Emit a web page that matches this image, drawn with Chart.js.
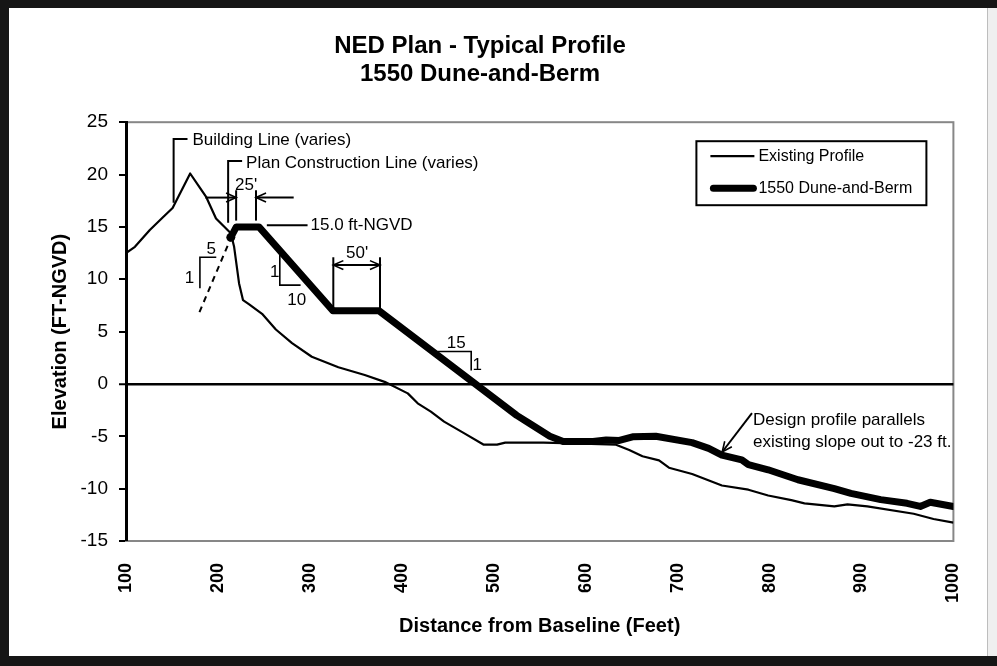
<!DOCTYPE html>
<html>
<head>
<meta charset="utf-8">
<script src="https://cdn.jsdelivr.net/npm/chart.js@4/dist/chart.umd.min.js"></script>
<style>
html,body{margin:0;padding:0;background:#fff;overflow:hidden;}
canvas{display:block;}
</style>
</head>
<body>
<canvas id="c" width="997" height="666"></canvas>
<script>
// ---------- data ----------
const titleLines = ['NED Plan - Typical Profile', '1550 Dune-and-Berm'];
const xTitle = 'Distance from Baseline (Feet)';
const yTitle = 'Elevation (FT-NGVD)';
const xTickValues = [100, 200, 300, 400, 500, 600, 700, 800, 900, 1000];
const yTickValues = [-15, -10, -5, 0, 5, 10, 15, 20, 25];
const seriesNames = ['Existing Profile', '1550 Dune-and-Berm'];

const existingX = [100, 109.7, 125.9, 139.9, 150.7, 169.8, 179.9, 187, 197.9, 214, 217.6, 223, 227.3, 234, 248, 263, 280.6, 302.1, 331, 359.7, 381.3, 406.5, 417.3, 431.6, 446, 467.6, 489.2, 503.6, 512.5, 554, 597, 633, 647.4, 661.8, 679.8, 690.6, 715.8, 748.2, 777, 798.5, 823.7, 838, 870.5, 884.8, 906.4, 956.8, 978.4, 1000];
const existingY = [12.5, 13.1, 14.7, 15.9, 16.8, 20.1, 18.8, 17.9, 15.8, 14.4, 13.1, 9.6, 8.0, 7.6, 6.7, 5.2, 3.9, 2.6, 1.6, 0.85, 0.2, -0.9, -1.85, -2.65, -3.6, -4.7, -5.8, -5.8, -5.6, -5.6, -5.7, -5.8, -6.3, -6.9, -7.3, -8.0, -8.6, -9.7, -10.1, -10.65, -11.1, -11.4, -11.7, -11.5, -11.7, -12.4, -12.9, -13.25];

const designX = [214, 220, 244.6, 325, 375, 525, 539.5, 561, 575.6, 608, 622.3, 636.7, 651, 676.3, 715.8, 733.8, 748.2, 769.8, 777, 798.5, 830.9, 870.5, 888.5, 920.9, 949.6, 964, 974.8, 1000];
const designY = [14.0, 15.0, 15.0, 7.0, 7.0, -3.0, -3.8, -5.0, -5.5, -5.5, -5.35, -5.4, -5.05, -5.0, -5.6, -6.15, -6.8, -7.25, -7.7, -8.2, -9.15, -10.0, -10.45, -11.05, -11.4, -11.7, -11.3, -11.7];

// annotations in data coordinates
const annotations = [
  {type: 'path', pts: [[151.8, 17.3], [151.8, 23.4], [166.9, 23.4]]},
  {type: 'text', x: 172.3, y: 23.3, text: 'Building Line (varies)'},
  {type: 'path', pts: [[211.1, 15.4], [211.1, 21.3], [226.3, 21.3]]},
  {type: 'text', x: 230.6, y: 21.1, text: 'Plan Construction Line (varies)'},
  {type: 'arrow', from: [186.3, 17.8], to: [219.8, 17.8]},
  {type: 'path', pts: [[219.8, 15.6], [219.8, 18.5]]},
  {type: 'path', pts: [[241.4, 15.6], [241.4, 18.5]]},
  {type: 'text', x: 230.6, y: 19.0, text: "25'", align: 'center'},
  {type: 'arrow', from: [282.4, 17.8], to: [241.4, 17.8]},
  {type: 'path', pts: [[253.2, 15.15], [297.5, 15.15]]},
  {type: 'text', x: 300.7, y: 15.15, text: '15.0 ft-NGVD'},
  {type: 'path', pts: [[179.9, 6.86], [214.4, 14.0]], dash: [6, 5]},
  {type: 'path', pts: [[180.4, 9.15], [180.4, 12.1], [198.2, 12.1]], w: 1.6},
  {type: 'text', x: 192.8, y: 12.85, text: '5', align: 'center'},
  {type: 'text', x: 169.1, y: 10.1, text: '1', align: 'center'},
  {type: 'path', pts: [[267.3, 12.6], [267.3, 9.44], [289.9, 9.44]], w: 1.6},
  {type: 'text', x: 261.9, y: 10.68, text: '1', align: 'center'},
  {type: 'text', x: 285.6, y: 8.0, text: '10', align: 'center'},
  {type: 'path', pts: [[325.5, 7], [325.5, 12.1]]},
  {type: 'path', pts: [[376.3, 7], [376.3, 12.1]]},
  {type: 'arrow', from: [325.5, 11.35], to: [376.3, 11.35], both: true},
  {type: 'text', x: 351.4, y: 12.45, text: "50'", align: 'center'},
  {type: 'path', pts: [[438.8, 3.1], [475.5, 3.1], [475.5, 1.29]], w: 1.6},
  {type: 'text', x: 459.3, y: 3.87, text: '15', align: 'center'},
  {type: 'text', x: 482, y: 1.8, text: '1', align: 'center'},
  {type: 'text', x: 782, y: -3.45, text: 'Design profile parallels'},
  {type: 'text', x: 782, y: -5.55, text: 'existing slope out to -23 ft.'},
  {type: 'arrow', from: [780.9, -2.78], to: [748.5, -6.5]}
];

// ---------- styling ----------
const FONT = "'Liberation Sans', Arial, Helvetica, sans-serif";

const framePlugin = {
  id: 'frame',
  beforeDraw(chart) {
    const {ctx, width, height, chartArea: a} = chart;
    ctx.save();
    ctx.fillStyle = '#fff';
    ctx.fillRect(0, 0, width, height);
    ctx.fillStyle = '#161616';
    ctx.fillRect(0, 0, width, 8);
    ctx.fillRect(0, 0, 9, height);
    ctx.fillRect(0, height - 10, width, 10);
    ctx.fillStyle = '#efefef';
    ctx.fillRect(width - 9, 8, 9, height - 18);
    ctx.fillStyle = '#bdbdbd';
    ctx.fillRect(width - 10, 8, 1, height - 18);
    ctx.strokeStyle = '#878787';
    ctx.lineWidth = 2;
    ctx.strokeRect(a.left, a.top, a.right - a.left, a.bottom - a.top);
    ctx.restore();
  }
};

function head(ctx, x1, y1, x2, y2) {
  const ang = Math.atan2(y2 - y1, x2 - x1);
  const L = 11, s = 0.42;
  ctx.beginPath();
  ctx.moveTo(x2 - L * Math.cos(ang - s), y2 - L * Math.sin(ang - s));
  ctx.lineTo(x2, y2);
  ctx.lineTo(x2 - L * Math.cos(ang + s), y2 - L * Math.sin(ang + s));
  ctx.stroke();
}

const annotationPlugin = {
  id: 'notes',
  afterDatasetsDraw(chart) {
    const {ctx} = chart;
    const xs = chart.scales.x, ys = chart.scales.y;
    const px = v => xs.getPixelForValue(v), py = v => ys.getPixelForValue(v);
    ctx.save();
    ctx.strokeStyle = '#000';
    ctx.fillStyle = '#000';
    ctx.lineCap = 'butt';
    ctx.lineJoin = 'miter';
    for (const n of annotations) {
      ctx.lineWidth = n.w || 2;
      ctx.setLineDash(n.dash || []);
      if (n.type === 'path') {
        ctx.beginPath();
        n.pts.forEach((p, i) => i ? ctx.lineTo(px(p[0]), py(p[1])) : ctx.moveTo(px(p[0]), py(p[1])));
        ctx.stroke();
      } else if (n.type === 'arrow') {
        const x1 = px(n.from[0]), y1 = py(n.from[1]), x2 = px(n.to[0]), y2 = py(n.to[1]);
        ctx.beginPath(); ctx.moveTo(x1, y1); ctx.lineTo(x2, y2); ctx.stroke();
        ctx.lineWidth = 1.6;
        head(ctx, x1, y1, x2, y2);
        if (n.both) head(ctx, x2, y2, x1, y1);
      } else if (n.type === 'text') {
        ctx.font = '17px ' + FONT;
        ctx.textAlign = n.align || 'left';
        ctx.textBaseline = 'middle';
        ctx.fillText(n.text, px(n.x), py(n.y));
      }
    }
    ctx.restore();
  }
};

const legendPlugin = {
  id: 'boxLegend',
  afterDraw(chart) {
    const {ctx, chartArea: a} = chart;
    const left = a.right - 257, top = a.top + 19, w = 230, h = 64;
    ctx.save();
    ctx.fillStyle = '#fff';
    ctx.fillRect(left, top, w, h);
    ctx.strokeStyle = '#000';
    ctx.lineWidth = 2;
    ctx.strokeRect(left, top, w, h);
    chart.data.datasets.forEach((ds, i) => {
      const y = top + 15 + i * 32;
      ctx.strokeStyle = ds.borderColor;
      ctx.lineWidth = ds.borderWidth;
      ctx.lineCap = i ? 'round' : 'butt';
      ctx.beginPath();
      ctx.moveTo(left + 14 + (i ? 3 : 0), y);
      ctx.lineTo(left + 58 - (i ? 1 : 0), y);
      ctx.stroke();
      ctx.fillStyle = '#000';
      ctx.font = '16px ' + FONT;
      ctx.textAlign = 'left';
      ctx.textBaseline = 'middle';
      ctx.fillText(ds.label, left + 62, y);
    });
    ctx.restore();
  }
};

const toPoints = (xs, ys) => xs.map((x, i) => ({x, y: ys[i]}));

new Chart(document.getElementById('c'), {
  type: 'line',
  data: {
    datasets: [
      {
        label: seriesNames[0],
        data: toPoints(existingX, existingY),
        borderColor: '#000',
        borderWidth: 2.2,
        pointRadius: 0,
        tension: 0,
        borderJoinStyle: 'round'
      },
      {
        label: seriesNames[1],
        data: toPoints(designX, designY),
        borderColor: '#000',
        backgroundColor: '#000',
        borderWidth: 7,
        pointRadius: ctx => ctx.dataIndex === 0 ? 4.5 : 0,
        pointBorderWidth: 0,
        tension: 0,
        borderJoinStyle: 'round',
        borderCapStyle: 'round'
      }
    ]
  },
  options: {
    responsive: false,
    animation: false,
    events: [],
    layout: {padding: {left: 0, right: 37, top: 0, bottom: 0}},
    plugins: {
      legend: {display: false},
      tooltip: {enabled: false},
      title: {
        display: true,
        text: titleLines,
        color: '#000',
        font: {family: FONT, size: 24, weight: 'bold', lineHeight: 1.15},
        padding: {top: 33, bottom: 34}
      }
    },
    scales: {
      x: {
        type: 'linear',
        min: 100,
        max: 1000,
        afterBuildTicks: s => { s.ticks = xTickValues.map(v => ({value: v})); },
        afterFit: s => { s.height = 125; },
        ticks: {
          color: '#000',
          font: {family: FONT, size: 18, weight: 'bold'},
          minRotation: 90,
          maxRotation: 90,
          padding: 22,
          callback: v => String(v)
        },
        grid: {drawOnChartArea: false, drawTicks: false},
        border: {color: '#878787', width: 2},
        title: {
          display: true,
          text: xTitle,
          color: '#000',
          font: {family: FONT, size: 20, weight: 'bold', lineHeight: 1.2},
          padding: {top: 0, bottom: 28}
        }
      },
      y: {
        type: 'linear',
        min: -15,
        max: 25,
        afterBuildTicks: s => { s.ticks = yTickValues.map(v => ({value: v})); },
        afterFit: s => { s.width = 126; },
        ticks: {
          color: '#000',
          font: {family: FONT, size: 19},
          padding: 11,
          callback: v => String(v)
        },
        grid: {
          drawOnChartArea: true,
          color: c => (c.tick && c.tick.value === 0) ? '#000' : 'rgba(0,0,0,0)',
          lineWidth: c => (c.tick && c.tick.value === 0) ? 2.5 : 0,
          tickColor: '#000',
          tickWidth: 2,
          tickLength: 7
        },
        border: {color: '#000', width: 3},
        title: {
          display: true,
          text: yTitle,
          color: '#000',
          font: {family: FONT, size: 20, weight: 'bold', lineHeight: 1.2},
          padding: {top: 48, bottom: 0}
        }
      }
    }
  },
  plugins: [framePlugin, annotationPlugin, legendPlugin]
});
</script>
</body>
</html>
